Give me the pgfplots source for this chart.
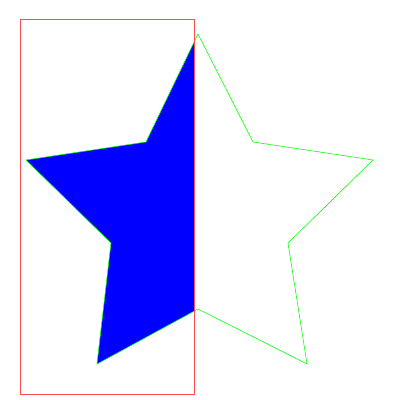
\documentclass[border=0pt]{standalone}
\usepackage{pgfplots}
\pgfplotsset{compat=1.18}
\begin{document}
\begin{tikzpicture}
\begin{axis}[width=10cm,height=10cm,scale only axis,axis lines=none,
xmin=0,xmax=400,ymin=0,ymax=400,y dir=reverse,clip=false]
\path (axis cs:0,0) rectangle (axis cs:400,400);
\addplot[fill=blue,draw=none] coordinates {(194,42.3)(146,142)(26,160)(111,243)(97,364)(194,311.2)} --cycle;
\addplot[green,thin] coordinates {(198,34)(253,142)(373,160)(288,243)(307,364)(198,309)(97,364)(111,243)(26,160)(146,142)(198,34)};
\addplot[red!70,thin] coordinates {(20,19)(194,19)(194,394)(20,394)(20,19)};
\end{axis}
\end{tikzpicture}
\end{document}
